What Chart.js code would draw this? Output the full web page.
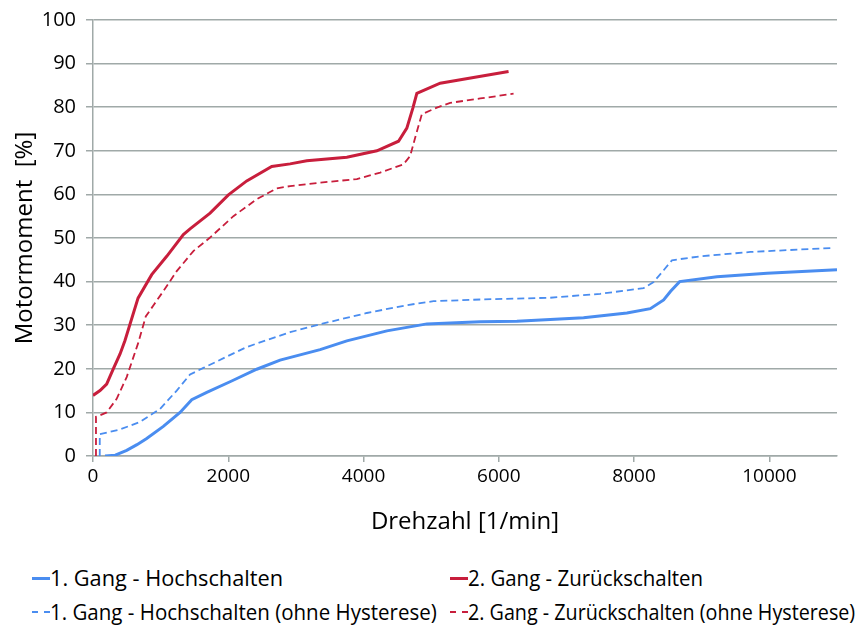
<!DOCTYPE html>
<html>
<head>
<meta charset="utf-8">
<script src="https://cdn.jsdelivr.net/npm/chart.js@4"></script>
<style>
    body { margin: 0; background: #fff; }
    #wrap { position: relative; width: 862px; height: 630px; font-family: "Open Sans", sans-serif; }
    #chartBox { position: absolute; left: 0; top: 0; width: 862px; height: 545px; }
    .legend-item { position: absolute; font-size: 21px; line-height: 26px; color: #000; display: flex; align-items: center; white-space: nowrap; }
    .legend-item .sample { width: 18px; margin-right: 0; border-top-width: 3px; border-top-style: solid; }
    .legend-item .sample.dashed { border-top-width: 2px; border-top-style: dashed; }
    .legend-item .label { display: inline-block; transform-origin: 0 50%; }
</style>
</head>
<body>
<div id="wrap">
    <div id="chartBox"><canvas id="motorChart"></canvas></div>
    <div id="legend"></div>
</div>
<script>
// === Motormoment vs. Drehzahl ===

const blue = '#4a8df0';
const red = '#c81e3c';
const gridColor = '#a0a9a8';

// 1. Gang - Hochschalten
const gang1HochX = [178, 330, 498, 650, 794, 1040, 1287, 1460, 1682, 2050, 2421, 2766, 3358, 3753, 4345, 4937, 5281, 5725, 6267, 7253, 7894, 8240, 8437, 8540, 8673, 9226, 9966, 11000];
const gang1HochY = [0, 0.2, 1.3, 2.6, 4.0, 6.8, 10.0, 12.9, 14.6, 17.2, 19.9, 22.0, 24.4, 26.4, 28.7, 30.3, 30.5, 30.8, 30.9, 31.7, 32.8, 33.8, 35.8, 37.8, 40.0, 41.1, 41.9, 42.7];

// 1. Gang - Hochschalten (ohne Hysterese)
const gang1HochOhneX = [100, 100, 400, 695, 991, 1238, 1435, 1632, 2273, 2914, 3407, 4048, 4640, 5034, 5725, 6760, 7500, 7894, 8141, 8289, 8437, 8560, 8979, 9719, 10902];
const gang1HochOhneY = [0, 5.0, 6.1, 7.8, 10.8, 15.0, 18.7, 20.2, 25.0, 28.4, 30.4, 32.8, 34.6, 35.5, 35.9, 36.3, 37.2, 38.0, 38.5, 39.9, 42.6, 44.9, 45.8, 46.8, 47.7];

// 2. Gang - Zurückschalten
const gang2ZurueckX = [0, 104, 202, 300, 400, 473, 666, 868, 1090, 1336, 1435, 1731, 2002, 2273, 2643, 2914, 3161, 3753, 4197, 4517, 4640, 4729, 4788, 5133, 5626, 6144];
const gang2ZurueckY = [13.9, 15.0, 16.5, 20.0, 23.4, 26.5, 36.2, 41.6, 45.8, 50.8, 52.1, 55.7, 59.9, 63.1, 66.4, 67.0, 67.7, 68.5, 70.0, 72.2, 75.2, 79.8, 83.2, 85.5, 86.8, 88.2];

// 2. Gang - Zurückschalten (ohne Hysterese)
const gang2ZurueckOhneX = [44, 44, 100, 202, 350, 498, 670, 780, 900, 1040, 1238, 1484, 1731, 2076, 2421, 2717, 2914, 3358, 3901, 4246, 4590, 4689, 4763, 4862, 5084, 5281, 5725, 6218];
const gang2ZurueckOhneY = [0, 9.0, 9.3, 10.0, 13.1, 18.1, 26.0, 32.0, 34.7, 37.8, 42.4, 47.0, 50.1, 55.0, 58.9, 61.4, 61.9, 62.7, 63.5, 65.0, 66.9, 68.8, 73.0, 78.4, 79.9, 81.0, 82.0, 83.1];

const xTicks = [0, 2000, 4000, 6000, 8000, 10000];
const yTicks = [0, 10, 20, 30, 40, 50, 60, 70, 80, 90, 100];

const seriesNames = [
    '1. Gang - Hochschalten',
    '2. Gang - Zurückschalten',
    '1. Gang - Hochschalten (ohne Hysterese)',
    '2. Gang - Zurückschalten (ohne Hysterese)'
];

function toPoints(xs, ys) {
    return xs.map((x, i) => ({ x: x, y: ys[i] }));
}

const fontFamily = '"Open Sans", sans-serif';

document.addEventListener('DOMContentLoaded', function() {
    const canvas = document.getElementById('motorChart');

    new Chart(canvas, {
        type: 'line',
        data: {
            datasets: [
                { label: seriesNames[0], data: toPoints(gang1HochX, gang1HochY), borderColor: blue, borderWidth: 3 },
                { label: seriesNames[1], data: toPoints(gang2ZurueckX, gang2ZurueckY), borderColor: red, borderWidth: 3 },
                { label: seriesNames[2], data: toPoints(gang1HochOhneX, gang1HochOhneY), borderColor: blue, borderWidth: 1.8, borderDash: [7, 4] },
                { label: seriesNames[3], data: toPoints(gang2ZurueckOhneX, gang2ZurueckOhneY), borderColor: red, borderWidth: 1.8, borderDash: [7, 4] }
            ]
        },
        options: {
            responsive: true,
            maintainAspectRatio: false,
            animation: false,
            layout: { padding: { top: 19, right: 25, left: 0, bottom: 0 } },
            elements: {
                point: { radius: 0 },
                line: { tension: 0, fill: false }
            },
            plugins: {
                legend: { display: false },
                tooltip: { enabled: false }
            },
            scales: {
                x: {
                    type: 'linear',
                    min: 0,
                    max: 11000,
                    afterBuildTicks: function(scale) {
                        scale.ticks = xTicks.map(v => ({ value: v }));
                    },
                    afterFit: function(scale) { scale.height = 89; },
                    ticks: {
                        color: '#000',
                        font: { family: fontFamily, size: 19 },
                        padding: 3,
                        maxRotation: 0,
                        callback: function(value) { return String(value); }
                    },
                    grid: { drawOnChartArea: false, drawTicks: true, tickLength: 6, color: gridColor, lineWidth: 1.5 },
                    border: { display: true, color: gridColor, width: 1.5 },
                    title: {
                        display: true,
                        text: 'Drehzahl [1/min]',
                        color: '#000',
                        font: { family: fontFamily, size: 24 },
                        padding: { top: 8, bottom: 8 }
                    }
                },
                y: {
                    min: 0,
                    max: 100,
                    afterBuildTicks: function(scale) {
                        scale.ticks = yTicks.map(v => ({ value: v }));
                    },
                    afterFit: function(scale) { scale.width = 93; },
                    ticks: {
                        color: '#000',
                        font: { family: fontFamily, size: 20, lineHeight: 1 },
                        padding: 10
                    },
                    grid: { color: gridColor, lineWidth: 1.5, tickLength: 7 },
                    border: { display: true, color: gridColor, width: 1.5 },
                    title: {
                        display: true,
                        text: 'Motormoment  [%]',
                        color: '#000',
                        font: { family: fontFamily, size: 24 },
                        padding: { top: 11, bottom: 4 }
                    }
                }
            }
        }
    });

    // HTML legend, two columns like the original; text stretched to the original widths
    const legendPos = [
        { left: 32, top: 565, width: 233, color: blue, dashed: false },
        { left: 450, top: 565, width: 235, color: red, dashed: false },
        { left: 32, top: 599, width: 387, color: blue, dashed: true },
        { left: 450, top: 599, width: 387, color: red, dashed: true }
    ];
    const legend = document.getElementById('legend');
    legendPos.forEach(function(p, i) {
        const item = document.createElement('div');
        item.className = 'legend-item';
        item.style.left = p.left + 'px';
        item.style.top = p.top + 'px';
        const sample = document.createElement('span');
        sample.className = 'sample' + (p.dashed ? ' dashed' : '');
        sample.style.borderTopColor = p.color;
        const text = document.createElement('span');
        text.className = 'label';
        text.textContent = seriesNames[i];
        item.appendChild(sample);
        item.appendChild(text);
        legend.appendChild(item);
        const w = text.getBoundingClientRect().width;
        if (w > 0) text.style.transform = 'scaleX(' + (p.width / w).toFixed(3) + ')';
    });
});
</script>
</body>
</html>
